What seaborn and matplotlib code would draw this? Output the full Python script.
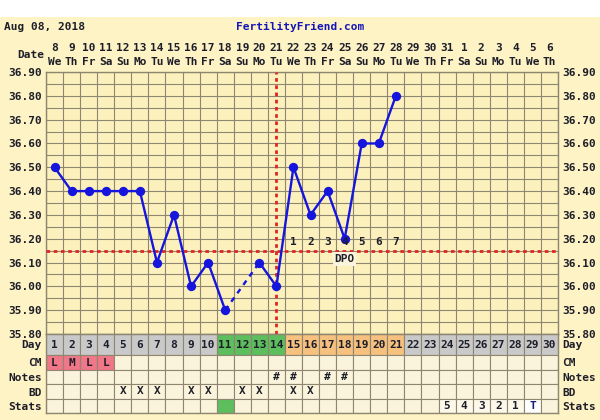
import numpy as np
import pandas as pd
import matplotlib
matplotlib.use("Agg")
import matplotlib.pyplot as plt
import matplotlib.transforms as mtransforms
from matplotlib.patches import Rectangle
import seaborn as sns

# ---- cycle data ----
start_date = "2018-08-08"
n_days = 30
cycle_days = list(range(1, 22))
temps = [36.50, 36.40, 36.40, 36.40, 36.40, 36.40, 36.10, 36.30, 36.00, 36.10,
         35.90, np.nan, 36.10, 36.00, 36.50, 36.30, 36.40, 36.20, 36.60, 36.60, 36.80]
coverline = 36.15
ovulation_day = 14
dpo_days = list(range(15, 22))
dpo_labels = ["1", "2", "3", "4", "5", "6", "7"]

fertile_days = [11, 12, 13, 14]
luteal_days = list(range(15, 22))
cm_days = [1, 2, 3, 4]
cm_labels = ["L", "M", "L", "L"]
note_days = [14, 15, 17, 18]
bd_days = [5, 6, 7, 9, 10, 12, 13, 15, 16]
stats_green_days = [11]
countdown_days = [24, 25, 26, 27, 28]
countdown_labels = ["5", "4", "3", "2", "1"]
test_day = 29
test_label = "T"

y_min, y_max = 35.80, 36.90
row_names = ["Day", "CM", "Notes", "BD", "Stats"]
row_heights = [21, 15, 14, 15, 14]

# ---- styling ----
BG = "#FDF3C4"
PLOT_BG = "#FCF1BD"
CELL_BG = "#FBF4DC"
GRID = "#8E8670"
TXT = "#1E1E2A"
BLUE = "#1515DD"
RED = "#E02424"
GRAY = "#C9C9C9"
GREEN = "#5DBE5D"
ORANGE = "#F6C17E"
PINK = "#F07787"
FONT = "DejaVu Sans Mono"

sns.set_style("white")
plt.rcParams["font.family"] = [FONT, "DejaVu Sans"]
plt.rcParams["font.weight"] = "bold"
plt.rcParams["font.size"] = 8

W, H = 600, 420
fig = plt.figure(figsize=(W / 100, H / 100), dpi=100, facecolor=BG)
fig.add_artist(Rectangle((0, 1 - 17 / H), 1, 17 / H, transform=fig.transFigure,
                         facecolor="white", edgecolor="none", zorder=0))

x0, x1 = 46, 558
plot_top, plot_bot = 72, 334
tab_bot = plot_bot + sum(row_heights)

# ---- temperature chart ----
ax = fig.add_axes([x0 / W, 1 - plot_bot / H, (x1 - x0) / W, (plot_bot - plot_top) / H])
ax.set_facecolor(PLOT_BG)
ax.set_xlim(0.5, n_days + 0.5)
ax.set_ylim(y_min, y_max)
ax.set_xticks(np.arange(0.5, n_days + 1, 1), minor=True)
ax.set_xticks([])
ax.set_yticks(np.round(np.arange(y_min, y_max + 0.001, 0.05), 2), minor=True)
major_y = np.round(np.arange(y_min, y_max + 0.001, 0.10), 2)
ax.set_yticks(major_y)
ax.set_yticklabels([f"{v:.2f}" for v in major_y])
ax.tick_params(axis="y", which="both", length=0, pad=3, labelright=True,
               labelsize=8, labelcolor=TXT)
ax.tick_params(axis="x", which="both", length=0)
for lab in ax.get_yticklabels():
    lab.set_fontweight("bold")
ax.grid(True, which="both", color=GRID, lw=0.8)
for s in ax.spines.values():
    s.set_color(GRID)
    s.set_linewidth(1.0)
ax.set_axisbelow(True)

df = pd.DataFrame({"day": cycle_days, "temp": temps})
df["seg"] = df["temp"].isna().cumsum()
valid = df.dropna()
sns.lineplot(data=valid, x="day", y="temp", units="seg", estimator=None,
             color=BLUE, lw=1.7, ax=ax, zorder=4)
# dashed bridge over missing readings
for i in df.index[df["temp"].isna()]:
    before = df.loc[:i - 1].dropna().iloc[-1]
    after = df.loc[i + 1:].dropna().iloc[0]
    bridge = pd.DataFrame({"day": [before["day"], after["day"]],
                           "temp": [before["temp"], after["temp"]]})
    sns.lineplot(data=bridge, x="day", y="temp", color=BLUE, lw=1.7,
                 linestyle=(0, (2.2, 2.2)), ax=ax, zorder=4)
sns.scatterplot(data=valid, x="day", y="temp", color=BLUE, s=45,
                edgecolor=BLUE, linewidth=0, ax=ax, zorder=5)
ax.set_xlabel("")
ax.set_ylabel("")

ax.axhline(coverline, color=RED, lw=2.0, linestyle=(0, (1.3, 1.3)), zorder=3)
ax.axvline(ovulation_day, color=RED, lw=2.0, linestyle=(0, (1.3, 1.3)), zorder=3)

for d, lab in zip(dpo_days, dpo_labels):
    ax.text(d, coverline + 0.035, lab, ha="center", va="center", color=TXT,
            fontsize=8, fontweight="bold", zorder=6)
ax.text(dpo_days[len(dpo_days) // 2], coverline - 0.035, "DPO", ha="center",
        va="center", color=TXT, fontsize=8, fontweight="bold", zorder=6,
        bbox=dict(boxstyle="square,pad=0.15", facecolor=CELL_BG, edgecolor="none"))

# ---- header ----
dates = pd.date_range(start_date, periods=n_days, freq="D")
hdr = mtransforms.blended_transform_factory(ax.transData, fig.transFigure)
for d, dt in zip(range(1, n_days + 1), dates):
    ax.text(d, 1 - 48 / H, str(dt.day), transform=hdr, ha="center", va="center",
            color=TXT, fontsize=8, fontweight="bold", clip_on=False)
    ax.text(d, 1 - 62 / H, dt.strftime("%a")[:2], transform=hdr, ha="center",
            va="center", color=TXT, fontsize=8, fontweight="bold", clip_on=False)
fig.text(44 / W, 1 - 55 / H, "Date", ha="right", va="center", color=TXT,
         fontsize=8, fontweight="bold")
fig.text(4 / W, 1 - 27 / H, dates[0].strftime("%b %d, %Y"), ha="left",
         va="center", color=TXT, fontsize=8, fontweight="bold")
fig.text(300 / W, 1 - 27 / H, "FertilityFriend.com", ha="center", va="center",
         color="#1414B8", fontsize=8, fontweight="bold")

# ---- table below the chart ----
tax = fig.add_axes([x0 / W, 1 - tab_bot / H, (x1 - x0) / W, (tab_bot - plot_bot) / H])
tax.set_facecolor(CELL_BG)
tax.set_xlim(0.5, n_days + 0.5)
total_h = sum(row_heights)
tax.set_ylim(total_h, 0)
tops = np.concatenate([[0], np.cumsum(row_heights)[:-1]])
centers = tops + np.array(row_heights) / 2

all_days = np.arange(1, n_days + 1)


def row_fill(row, colors):
    tax.bar(all_days, row_heights[row], bottom=tops[row], width=1.0,
            color=colors, edgecolor=GRID, linewidth=0.8, align="center", zorder=1)


day_colors = [GREEN if d in fertile_days else ORANGE if d in luteal_days else GRAY
              for d in all_days]
row_fill(0, day_colors)
row_fill(1, [PINK if d in cm_days else CELL_BG for d in all_days])
row_fill(2, [CELL_BG] * n_days)
row_fill(3, [CELL_BG] * n_days)
stats_colors = []
for d in all_days:
    if d in stats_green_days:
        stats_colors.append(GREEN)
    elif d == test_day:
        stats_colors.append("white")
    elif d in countdown_days:
        stats_colors.append("#FDF8E9")
    else:
        stats_colors.append(CELL_BG)
row_fill(4, stats_colors)

txt_kw = dict(ha="center", va="center", color=TXT, fontsize=8, fontweight="bold", zorder=3)
for d in all_days:
    tax.text(d, centers[0] + 1, str(d), **txt_kw)
for d, lab in zip(cm_days, cm_labels):
    tax.text(d, centers[1], lab, **txt_kw)
for d in note_days:
    tax.text(d, centers[2], "#", **txt_kw)
for d in bd_days:
    tax.text(d, centers[3], "X", **txt_kw)
for d, lab in zip(countdown_days, countdown_labels):
    tax.text(d, centers[4], lab, **txt_kw)
tax.text(test_day, centers[4], test_label, **{**txt_kw, "color": "#1A1A7A"})

tax.set_xticks([])
tax.set_yticks(centers)
tax.set_yticklabels(row_names)
tax.tick_params(axis="y", length=0, pad=3, labelright=True, labelsize=8,
                labelcolor=TXT)
for lab in tax.get_yticklabels():
    lab.set_fontweight("bold")
for s in tax.spines.values():
    s.set_color(GRID)
    s.set_linewidth(1.0)

fig.savefig("out.png", dpi=100, facecolor=BG)
